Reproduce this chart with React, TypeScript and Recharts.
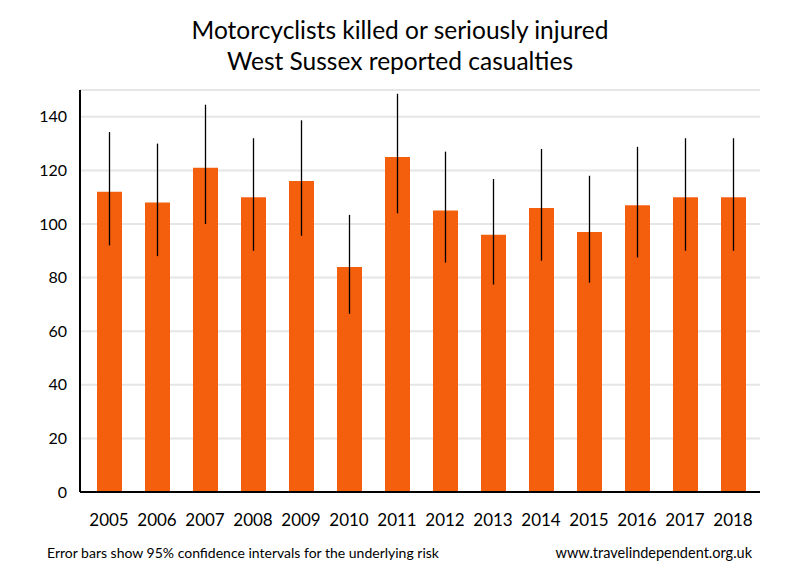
import { Bar, BarChart, CartesianGrid, ErrorBar, XAxis, YAxis } from 'recharts'

const years = ['2005', '2006', '2007', '2008', '2009', '2010', '2011', '2012', '2013', '2014', '2015', '2016', '2017', '2018']
const casualties = [112, 108, 121, 110, 116, 84, 125, 105, 96, 106, 97, 107, 110, 110]
const ciLow = [92, 88, 100, 90, 95.6, 66.5, 104, 85.6, 77.4, 86.3, 78.1, 87.5, 90, 90]
const ciHigh = [134.3, 130, 144.5, 132, 138.7, 103.4, 148.6, 127, 116.8, 128, 118, 128.8, 132, 132]
const yTicks = [0, 20, 40, 60, 80, 100, 120, 140]

const data = years.map((year, i) => ({
  year,
  value: casualties[i],
  err: [casualties[i] - ciLow[i], ciHigh[i] - casualties[i]],
}))

const font = "Lato, 'Open Sans', sans-serif"

export default function App() {
  return (
    <div style={{ position: 'absolute', left: 0, top: 0, width: 800, height: 580, background: '#fff', fontFamily: font, color: '#000' }}>
      <div style={{ position: 'absolute', top: 14, left: 0, width: 800, textAlign: 'center', fontSize: 24.5, lineHeight: '31px' }}>
        Motorcyclists killed or seriously injured
        <br />
        West Sussex reported casualties
      </div>
      <BarChart width={800} height={580} data={data} margin={{ top: 90, right: 40, bottom: 0, left: 0 }}>
        <CartesianGrid vertical={false} stroke="#e6e6e6" strokeWidth={2} />
        <XAxis
          dataKey="year"
          axisLine={{ stroke: '#000', strokeWidth: 2 }}
          tickLine={false}
          tickMargin={16}
          height={88}
          padding={{ left: 5, right: 3 }}
          tick={{ fill: '#000', fontSize: 17, fontFamily: font }}
        />
        <YAxis
          domain={[0, 150]}
          ticks={yTicks}
          width={80}
          axisLine={{ stroke: '#000', strokeWidth: 2 }}
          tickLine={false}
          tickMargin={7}
          tick={{ fill: '#000', fontSize: 16, fontFamily: font }}
        />
        <Bar dataKey="value" fill="#f45f0e" barSize={25} isAnimationActive={false}>
          <ErrorBar dataKey="err" width={0} stroke="#000" strokeWidth={1.3} direction="y" />
        </Bar>
      </BarChart>
      <div style={{ position: 'absolute', top: 544, left: 47, fontSize: 14 }}>
        Error bars show 95% confidence intervals for the underlying risk
      </div>
      <div style={{ position: 'absolute', top: 544, right: 48, fontSize: 14.5 }}>
        www.travelindependent.org.uk
      </div>
    </div>
  )
}
